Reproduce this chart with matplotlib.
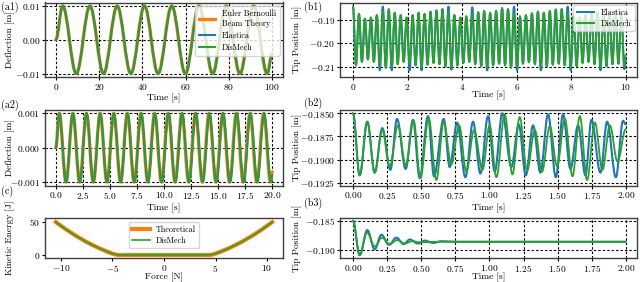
import numpy as np
import matplotlib
matplotlib.use('Agg')
import matplotlib.pyplot as plt
from matplotlib.path import Path
from matplotlib.patches import PathPatch
from matplotlib.lines import Line2D

plt.rcParams.update({
    'font.family': 'serif',
    'font.serif': ['cmr10'],
    'mathtext.fontset': 'cm',
    'axes.formatter.use_mathtext': True,
    'font.size': 6.8,
})

C_THEORY = '#ff7f0e'
C_ELASTICA = '#1f77b4'
C_DISMECH = '#2ca02c'

# (a1) large deflection, extremes of each cycle
a1_theory_t = [0, 3.15, 9.45, 15.75, 22.05, 28.35, 34.65, 40.95, 47.25, 53.55,
               59.85, 66.15, 72.45, 78.75, 85.05, 91.35, 97.65, 100]
a1_theory_v = [0, 0.01, -0.01, 0.01, -0.01, 0.01, -0.01, 0.01, -0.01, 0.01,
               -0.01, 0.01, -0.01, 0.01, -0.01, 0.01, -0.01, -0.0039]
a1_sim_t = [0, 3.17, 9.47, 15.78, 22.08, 28.39, 34.7, 41.0, 47.31, 53.62,
            59.93, 66.24, 72.55, 78.86, 85.17, 91.48, 97.79, 100]
a1_sim_v = [0, 0.01, -0.01, 0.01, -0.01, 0.01, -0.01, 0.01, -0.01, 0.01,
            -0.01, 0.01, -0.01, 0.01, -0.01, 0.01, -0.01, -0.0044]

# (a2) small deflection
a2_theory_t = [0, 0.315, 0.945, 1.575, 2.205, 2.835, 3.465, 4.095, 4.725, 5.355,
               5.985, 6.615, 7.245, 7.875, 8.505, 9.135, 9.765, 10.395, 11.025,
               11.655, 12.285, 12.915, 13.545, 14.175, 14.805, 15.435, 16.065,
               16.695, 17.325, 17.955, 18.585, 19.215, 19.845, 20.0]
a2_theory_v = [0, 0.001, -0.001, 0.001, -0.001, 0.001, -0.001, 0.001, -0.001,
               0.001, -0.001, 0.001, -0.001, 0.001, -0.001, 0.001, -0.001,
               0.001, -0.001, 0.001, -0.001, 0.001, -0.001, 0.001, -0.001,
               0.001, -0.001, 0.001, -0.001, 0.001, -0.001, 0.001, -0.001,
               -0.0007]
a2_sim_t = [0, 0.316, 0.947, 1.578, 2.209, 2.84, 3.471, 4.102, 4.733, 5.364,
            5.995, 6.626, 7.257, 7.888, 8.519, 9.15, 9.781, 10.412, 11.043,
            11.674, 12.305, 12.936, 13.567, 14.198, 14.829, 15.46, 16.091,
            16.722, 17.353, 17.984, 18.615, 19.246, 19.877, 20.0]
a2_sim_v = [0, 0.001, -0.001, 0.001, -0.001, 0.001, -0.001, 0.001, -0.001,
            0.001, -0.001, 0.001, -0.001, 0.001, -0.001, 0.001, -0.001,
            0.001, -0.001, 0.001, -0.001, 0.001, -0.001, 0.001, -0.001,
            0.001, -0.001, 0.001, -0.001, 0.001, -0.001, 0.001, -0.001,
            -0.0008]

# (c) kinetic energy against force
c_force = [-10.5, -10.0, -9.5, -9.0, -8.5, -8.0, -7.5, -7.0, -6.5, -6.0, -5.5,
           -5.0, -4.5, -4.0, -3.5, -3.0, -2.5, -2.0, -1.5, -1.0, -0.5, 0.0, 0.5,
           1.0, 1.5, 2.0, 2.5, 3.0, 3.5, 4.0, 4.5, 5.0, 5.5, 6.0, 6.5, 7.0, 7.5,
           8.0, 8.5, 9.0, 9.5, 10.0, 10.5]
c_theory_ke = [49.9, 44.1, 38.7, 33.5, 28.6, 24.0, 19.6, 15.6, 11.8, 8.3, 5.1,
               2.1, 0.0, 0.0, 0.0, 0.0, 0.0, 0.0, 0.0, 0.0, 0.0, 0.0, 0.0, 0.0,
               0.0, 0.0, 0.0, 0.0, 0.0, 0.0, 0.0, 2.1, 5.1, 8.3, 11.8, 15.6,
               19.6, 24.0, 28.6, 33.5, 38.7, 44.1, 49.9]
c_dismech_ke = [49.6, 44.0, 38.6, 33.4, 28.5, 23.9, 19.5, 15.5, 11.7, 8.2, 5.0,
                2.0, 0.1, 0.0, 0.0, 0.0, 0.0, 0.0, 0.0, 0.0, 0.0, 0.0, 0.0, 0.0,
                0.0, 0.0, 0.0, 0.0, 0.0, 0.0, 0.1, 2.0, 5.0, 8.2, 11.7, 15.5,
                19.5, 23.9, 28.5, 33.4, 38.6, 44.0, 49.6]

# (b1) tip position, extremes (peak, trough, peak, ...) over 10 s
b1_t = [0.000, 0.109, 0.219, 0.328, 0.437, 0.547, 0.656, 0.765, 0.874, 0.984,
        1.093, 1.202, 1.312, 1.421, 1.530, 1.640, 1.749, 1.858, 1.967, 2.077,
        2.186, 2.295, 2.405, 2.514, 2.623, 2.733, 2.842, 2.951, 3.060, 3.170,
        3.279, 3.388, 3.498, 3.607, 3.716, 3.826, 3.935, 4.044, 4.153, 4.263,
        4.372, 4.481, 4.591, 4.700, 4.809, 4.919, 5.028, 5.137, 5.246, 5.356,
        5.465, 5.574, 5.684, 5.793, 5.902, 6.012, 6.121, 6.230, 6.339, 6.449,
        6.558, 6.667, 6.777, 6.886, 6.995, 7.105, 7.214, 7.323, 7.432, 7.542,
        7.651, 7.760, 7.870, 7.979, 8.088, 8.198, 8.307, 8.416, 8.525, 8.635,
        8.744, 8.853, 8.963, 9.072, 9.181, 9.291, 9.400, 9.509, 9.618, 9.728,
        9.837, 9.946, 10.0]
b1_dismech_peak = [-0.1845, -0.1875, -0.1895, -0.1890, -0.1880, -0.1865, -0.1855,
                   -0.1870, -0.1880, -0.1890, -0.1880, -0.1870, -0.1875, -0.1865,
                   -0.1860, -0.1860, -0.1870, -0.1880, -0.1890, -0.1885, -0.1875,
                   -0.1868, -0.1862, -0.1870, -0.1862, -0.1850, -0.1858, -0.1875,
                   -0.1885, -0.1880, -0.1872, -0.1865, -0.1870, -0.1862, -0.1856,
                   -0.1860, -0.1872, -0.1885, -0.1890, -0.1880, -0.1870, -0.1868,
                   -0.1875, -0.1870, -0.1862, -0.1870]
b1_dismech_trough = [-0.2095, -0.2080, -0.2070, -0.2080, -0.2095, -0.2105, -0.2100,
                     -0.2090, -0.2080, -0.2085, -0.2095, -0.2100, -0.2092, -0.2085,
                     -0.2090, -0.2100, -0.2105, -0.2095, -0.2085, -0.2080, -0.2090,
                     -0.2098, -0.2102, -0.2095, -0.2088, -0.2095, -0.2105, -0.2100,
                     -0.2088, -0.2082, -0.2090, -0.2098, -0.2100, -0.2092, -0.2088,
                     -0.2095, -0.2102, -0.2098, -0.2085, -0.2080, -0.2090, -0.2100,
                     -0.2098, -0.2090, -0.2088, -0.2095]
b1_dismech_end = -0.2050
b1_elastica_peak = [-0.1845, -0.1877, -0.1897, -0.1892, -0.1882, -0.1845, -0.1857,
                    -0.1872, -0.1882, -0.1892, -0.1882, -0.1872, -0.1877, -0.1867,
                    -0.1862, -0.1855, -0.1845, -0.1882, -0.1892, -0.1887, -0.1848,
                    -0.1870, -0.1864, -0.1872, -0.1864, -0.1852, -0.1855, -0.1845,
                    -0.1887, -0.1882, -0.1874, -0.1867, -0.1872, -0.1864, -0.1858,
                    -0.1855, -0.1845, -0.1887, -0.1892, -0.1882, -0.1872, -0.1870,
                    -0.1877, -0.1872, -0.1864, -0.1872]
b1_elastica_trough = [-0.2093, -0.2078, -0.2068, -0.2078, -0.2115, -0.2103, -0.2115,
                      -0.2088, -0.2078, -0.2115, -0.2093, -0.2115, -0.2090, -0.2083,
                      -0.2088, -0.2098, -0.2112, -0.2093, -0.2083, -0.2078, -0.2088,
                      -0.2096, -0.2115, -0.2093, -0.2086, -0.2093, -0.2103, -0.2115,
                      -0.2086, -0.2080, -0.2088, -0.2115, -0.2098, -0.2090, -0.2086,
                      -0.2093, -0.2115, -0.2096, -0.2083, -0.2078, -0.2088, -0.2115,
                      -0.2096, -0.2088, -0.2086, -0.2110]
b1_elastica_end = -0.2070

# (b2) tip position over 2 s, extremes
b2_dismech_t = [0.000, 0.049, 0.105, 0.159, 0.215, 0.269, 0.330, 0.386, 0.445,
                0.494, 0.555, 0.611, 0.665, 0.721, 0.778, 0.831, 0.888, 0.949,
                1.002, 1.051, 1.112, 1.169, 1.222, 1.276, 1.333, 1.386, 1.443,
                1.496, 1.553, 1.609, 1.663, 1.716, 1.773, 1.829, 1.883, 1.939,
                2.000]
b2_dismech_v = [-0.1850, -0.1917, -0.1859, -0.1914, -0.1868, -0.1907, -0.1863,
                -0.1906, -0.1858, -0.1920, -0.1855, -0.1922, -0.1859, -0.1905,
                -0.1863, -0.1913, -0.1868, -0.1911, -0.1863, -0.1919, -0.1851,
                -0.1916, -0.1854, -0.1912, -0.1868, -0.1913, -0.1864, -0.1907,
                -0.1856, -0.1918, -0.1853, -0.1922, -0.1860, -0.1911, -0.1863,
                -0.1902, -0.1867]
b2_elastica_t = [0.000, 0.049, 0.105, 0.159, 0.215, 0.274, 0.323, 0.386, 0.440,
                 0.489, 0.550, 0.594, 0.665, 0.709, 0.763, 0.824, 0.880, 0.934,
                 0.990, 1.039, 1.095, 1.161, 1.215, 1.267, 1.320, 1.374, 1.430,
                 1.487, 1.540, 1.594, 1.650, 1.704, 1.748, 1.814, 1.863, 1.927,
                 1.980, 2.000]
b2_elastica_v = [-0.1850, -0.1917, -0.1859, -0.1914, -0.1866, -0.1911, -0.1856,
                 -0.1910, -0.1857, -0.1920, -0.1853, -0.1918, -0.1856, -0.1908,
                 -0.1860, -0.1919, -0.1859, -0.1915, -0.1853, -0.1913, -0.1850,
                 -0.1908, -0.1862, -0.1917, -0.1863, -0.1914, -0.1851, -0.1919,
                 -0.1851, -0.1910, -0.1863, -0.1917, -0.1857, -0.1914, -0.1859,
                 -0.1919, -0.1858, -0.1862]

# (b3) damped tip position over 2 s
b3_elastica_t = [0.0, 0.049, 0.105, 0.159, 0.208, 0.264, 0.318, 0.372, 0.416,
                 0.477, 0.526, 0.587, 0.65, 0.75, 2.0]
b3_elastica_v = [-0.1850, -0.1909, -0.1866, -0.1899, -0.1874, -0.1891, -0.1879,
                 -0.1890, -0.1882, -0.1889, -0.1884, -0.1888, -0.1885, -0.1886,
                 -0.1886]
b3_dismech_t = [0.0, 0.049, 0.103, 0.159, 0.213, 0.269, 0.323, 0.379, 0.435,
                0.49, 0.6, 2.0]
b3_dismech_v = [-0.1850, -0.1909, -0.1870, -0.1894, -0.1879, -0.1890, -0.1883,
                -0.1889, -0.1885, -0.1887, -0.1886, -0.1886]


def wave(ax, t, v, color, lw, z=2):
    # smooth curve through the extremes, horizontal tangent at each one
    verts = [(t[0], v[0])]
    codes = [Path.MOVETO]
    for t0, v0, t1, v1 in zip(t[:-1], v[:-1], t[1:], v[1:]):
        h = 0.3634 * (t1 - t0)
        verts += [(t0 + h, v0), (t1 - h, v1), (t1, v1)]
        codes += [Path.CURVE4] * 3
    ax.add_patch(PathPatch(Path(verts, codes), fill=False, edgecolor=color,
                           linewidth=lw, joinstyle='round', capstyle='round',
                           zorder=z))


def interleave(peaks, troughs, end):
    out = []
    for p, q in zip(peaks, troughs):
        out += [p, q]
    return out + [end]


def style(ax, ylab_x, grid=True):
    for s in ax.spines.values():
        s.set_color('0.25')
        s.set_linewidth(1.0)
    ax.tick_params(labelsize=6.8, length=2, width=0.8, pad=1.5)
    if grid:
        ax.grid(True, color='k', linestyle=(0, (2.2, 1.8)), linewidth=0.8)
    ax.ticklabel_format(axis='y', useOffset=False)
    ax.yaxis.set_label_coords(ylab_x, 0.5)


fig = plt.figure(figsize=(6.4, 2.82), dpi=100)

L, LW = 45 / 640, 238 / 640
R, RW = 340 / 640, 297 / 640
rows = [(1 - 77 / 282, 74.5 / 282), (1 - 185.5 / 282, 75.5 / 282),
        (1 - 258 / 282, 40 / 282)]
YL_L = (15 - 45) / 238
YL_R = (302 - 340) / 297

ax_a1 = fig.add_axes([L, rows[0][0], LW, rows[0][1]])
ax_a2 = fig.add_axes([L, rows[1][0], LW, rows[1][1]])
ax_c = fig.add_axes([L, rows[2][0], LW, rows[2][1]])
ax_b1 = fig.add_axes([R, rows[0][0], RW, rows[0][1]])
ax_b2 = fig.add_axes([R, rows[1][0], RW, rows[1][1]])
ax_b3 = fig.add_axes([R, rows[2][0], RW, rows[2][1]])

legend_kw = dict(fontsize=5.8, borderaxespad=0.4, labelspacing=0.45,
                 handlelength=2.0, handletextpad=0.8, borderpad=0.5)

# (a1)
wave(ax_a1, a1_theory_t, a1_theory_v, C_THEORY, 2.4)
wave(ax_a1, a1_sim_t, a1_sim_v, C_ELASTICA, 1.5)
wave(ax_a1, a1_sim_t, a1_sim_v, C_DISMECH, 1.3)
ax_a1.set_xlim(-5, 105)
ax_a1.set_ylim(-0.011, 0.011)
ax_a1.set_xticks([0, 20, 40, 60, 80, 100])
ax_a1.set_yticks([-0.01, 0.0, 0.01])
ax_a1.set_xlabel('Time [s]', labelpad=1.5)
ax_a1.set_ylabel('Deflection [m]')
style(ax_a1, YL_L)
ax_a1.legend([Line2D([], [], color=C_THEORY, lw=2.4),
              Line2D([], [], color=C_ELASTICA, lw=1.5),
              Line2D([], [], color=C_DISMECH, lw=1.5)],
             ['Euler Bernoulli\nBeam Theory', 'Elastica', 'DisMech'],
             loc='upper right', **legend_kw)

# (a2)
wave(ax_a2, a2_theory_t, a2_theory_v, C_THEORY, 2.4)
wave(ax_a2, a2_sim_t, a2_sim_v, C_ELASTICA, 1.5)
wave(ax_a2, a2_sim_t, a2_sim_v, C_DISMECH, 1.3)
ax_a2.set_xlim(-1, 21)
ax_a2.set_ylim(-0.0011, 0.0011)
ax_a2.set_xticks(np.arange(0, 20.1, 2.5))
ax_a2.set_yticks([-0.001, 0.0, 0.001])
ax_a2.set_xlabel('Time [s]', labelpad=1.5)
ax_a2.set_ylabel('Deflection [m]')
style(ax_a2, YL_L)

# (c)
ax_c.plot(c_force, c_theory_ke, color=C_THEORY, lw=3.0, label='Theoretical')
ax_c.plot(c_force, c_dismech_ke, color=C_DISMECH, lw=1.2, label='DisMech')
ax_c.set_xlim(-11.55, 11.55)
ax_c.set_ylim(-4.5, 56)
ax_c.set_xticks([-10, -5, 0, 5, 10])
ax_c.set_yticks([0, 50])
ax_c.set_xlabel('Force [N]', labelpad=-1)
ax_c.set_ylabel('Kinetic Energy [J]')
style(ax_c, YL_L, grid=False)
ax_c.legend(loc='upper center', **dict(legend_kw, borderaxespad=0.5,
                                       labelspacing=0.35, borderpad=0.4,
                                       handlelength=2.2))

# (b1)
wave(ax_b1, b1_t, interleave(b1_elastica_peak, b1_elastica_trough, b1_elastica_end),
     C_ELASTICA, 1.5)
wave(ax_b1, b1_t, interleave(b1_dismech_peak, b1_dismech_trough, b1_dismech_end),
     C_DISMECH, 1.3)
ax_b1.set_xlim(-0.476, 10.41)
ax_b1.set_ylim(-0.21433, -0.18273)
ax_b1.set_xticks([0, 2, 4, 6, 8, 10])
ax_b1.set_yticks([-0.21, -0.20, -0.19])
ax_b1.set_xlabel('Time [s]', labelpad=-1)
ax_b1.set_ylabel('Tip Position [m]')
style(ax_b1, YL_R)
ax_b1.legend([Line2D([], [], color=C_ELASTICA, lw=1.5),
              Line2D([], [], color=C_DISMECH, lw=1.5)],
             ['Elastica', 'DisMech'], loc='upper right',
             **dict(legend_kw, borderaxespad=0.3, labelspacing=0.35,
                    borderpad=0.4, handlelength=2.2))

# (b2)
wave(ax_b2, b2_elastica_t, b2_elastica_v, C_ELASTICA, 1.5)
wave(ax_b2, b2_dismech_t, b2_dismech_v, C_DISMECH, 1.3)
ax_b2.set_xlim(-0.0952, 2.082)
ax_b2.set_ylim(-0.19279, -0.18464)
ax_b2.set_xticks(np.arange(0, 2.01, 0.25))
ax_b2.set_yticks([-0.1925, -0.19, -0.1875, -0.185])
ax_b2.set_xlabel('Time [s]', labelpad=1.5)
ax_b2.set_ylabel('Tip Position [m]')
style(ax_b2, YL_R)

# (b3)
wave(ax_b3, b3_elastica_t, b3_elastica_v, C_ELASTICA, 1.5)
wave(ax_b3, b3_dismech_t, b3_dismech_v, C_DISMECH, 1.3)
ax_b3.set_xlim(-0.0952, 2.082)
ax_b3.set_ylim(-0.19137, -0.18454)
ax_b3.set_xticks(np.arange(0, 2.01, 0.25))
ax_b3.set_yticks([-0.19, -0.185])
ax_b3.set_xlabel('Time [s]', labelpad=-1)
ax_b3.set_ylabel('Tip Position [m]')
style(ax_b3, YL_R)

for txt, x, y in [('(a1)', 1, 7), ('(b1)', 304, 7), ('(a2)', 1, 105),
                  ('(b2)', 304, 103), ('(c)', 1, 191), ('(b3)', 304, 203)]:
    fig.text(x / 640, 1 - y / 282, txt, fontsize=7.2, va='center', ha='left')

fig.savefig('out.png', dpi=100)
